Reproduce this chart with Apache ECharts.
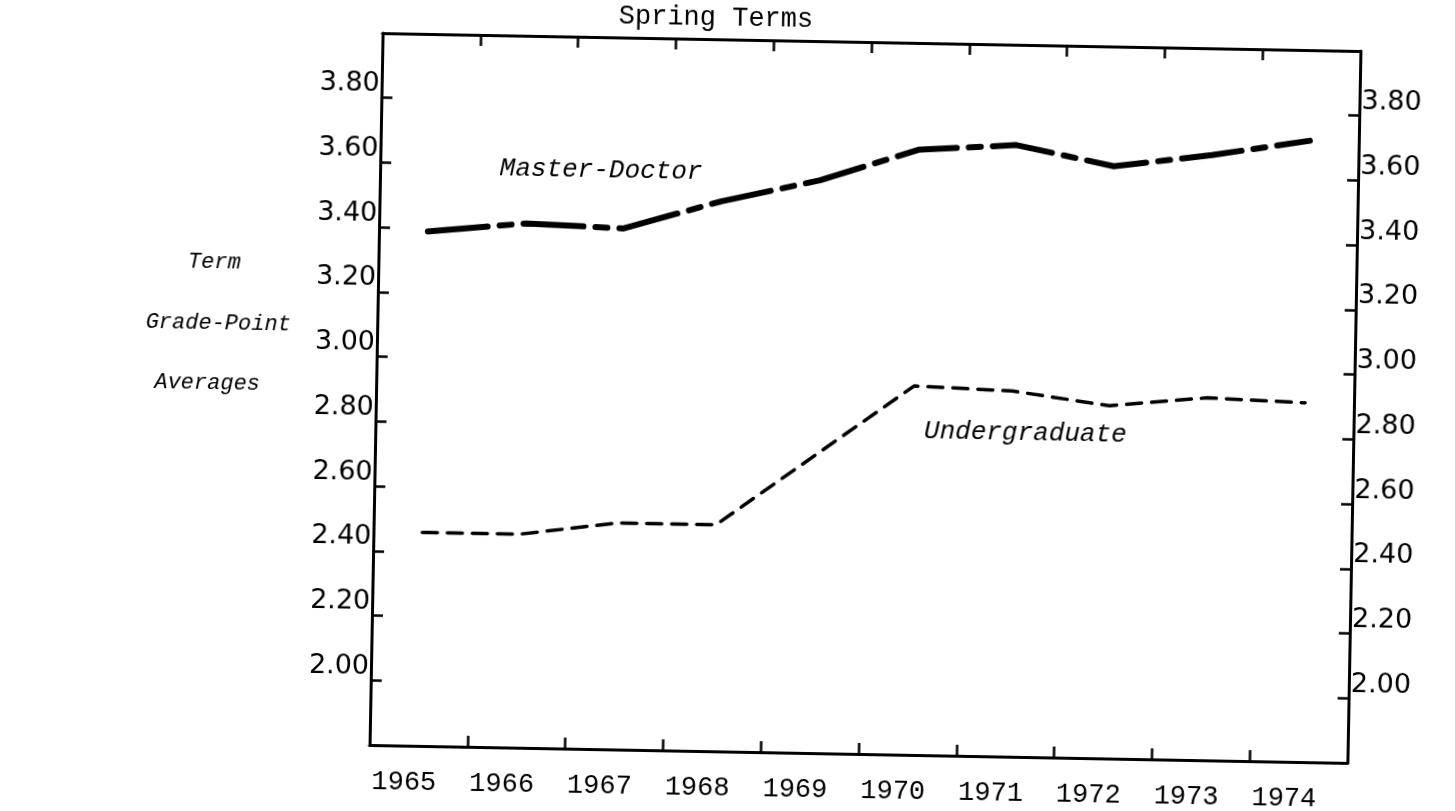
<!DOCTYPE html>
<html>
<head>
<meta charset="utf-8">
<script src="https://cdn.jsdelivr.net/npm/echarts@6/dist/echarts.min.js"></script>
<style>
  html, body { margin: 0; padding: 0; background: #fff; overflow: hidden; }
  /* the scanned page is slightly skewed, about 1 degree clockwise */
  #chart { width: 1455px; height: 811px; transform: rotate(1.05deg); transform-origin: 865px 398px; }
</style>
</head>
<body>
<div id="chart"></div>
<script>
// spring terms, term grade-point averages
const years = ['1965', '1966', '1967', '1968', '1969', '1970', '1971', '1972', '1973', '1974'];
const masterDoctor = [3.39, 3.42, 3.41, 3.50, 3.57, 3.67, 3.69, 3.63, 3.67, 3.72];
const undergraduate = [2.46, 2.46, 2.50, 2.50, 2.72, 2.94, 2.93, 2.89, 2.92, 2.91];
const gpaTicks = [2.0, 2.2, 2.4, 2.6, 2.8, 3.0, 3.2, 3.4, 3.6, 3.8];

const typeFont = '"Liberation Mono"';
const axisLine = { show: true, lineStyle: { color: '#000', width: 3 } };
const tick = { show: true, inside: true, length: 11, lineStyle: { color: '#000', width: 2.5 } };

// y axis shared settings
const yBase = {
  type: 'value',
  min: 1.8,
  max: 4.0,
  interval: 0.2,
  splitLine: { show: false },
  axisLine: axisLine,
  axisTick: Object.assign({}, tick, { customValues: gpaTicks }),
  axisLabel: {
    customValues: gpaTicks,
    formatter: v => v.toFixed(2),
    fontFamily: 'DejaVu Sans',
    fontSize: 27,
    color: '#000',
    margin: 2,
    verticalAlign: 'bottom'
  }
};

// centred text helper for the typed notes
const note = (text, x, y, size, italic) => ({
  type: 'text',
  style: {
    text: text,
    x: x,
    y: y,
    textAlign: 'center',
    textVerticalAlign: 'middle',
    font: (italic ? 'italic ' : '') + size + 'px ' + typeFont,
    fill: '#000'
  }
});

const chart = echarts.init(document.getElementById('chart'));

chart.setOption({
  animation: false,
  backgroundColor: '#fff',
  grid: { left: 376, right: 101, top: 42, bottom: 57 },
  xAxis: [
    {
      type: 'category',
      data: years,
      boundaryGap: true,
      axisLine: axisLine,
      axisTick: tick,
      axisLabel: {
        fontFamily: 'Liberation Mono',
        fontSize: 27,
        color: '#000',
        margin: 23,
        padding: [0, 28, 0, 0]
      }
    },
    {
      type: 'category',
      data: years,
      position: 'top',
      boundaryGap: true,
      axisLine: axisLine,
      axisTick: tick,
      axisLabel: { show: false }
    }
  ],
  yAxis: [
    Object.assign({}, yBase, { position: 'left' }),
    Object.assign({}, yBase, { position: 'right' })
  ],
  series: [
    {
      name: 'Master-Doctor',
      type: 'line',
      data: masterDoctor,
      showSymbol: false,
      lineStyle: { color: '#000', width: 6, type: [60, 12, 12, 12], cap: 'round' }
    },
    {
      name: 'Undergraduate',
      type: 'line',
      data: undergraduate,
      showSymbol: false,
      lineStyle: { color: '#000', width: 3.5, type: [15, 10], cap: 'round' }
    }
  ],
  graphic: [
    note('Spring Terms', 709, 21, 27, false),
    note('Master-Doctor', 597, 175, 26, true),
    note('Undergraduate', 1026, 430, 26, true),
    note('Term', 212, 274, 22, true),
    note('Grade-Point', 217, 335, 22, true),
    note('Averages', 207, 395, 22, true)
  ]
});
</script>
</body>
</html>
